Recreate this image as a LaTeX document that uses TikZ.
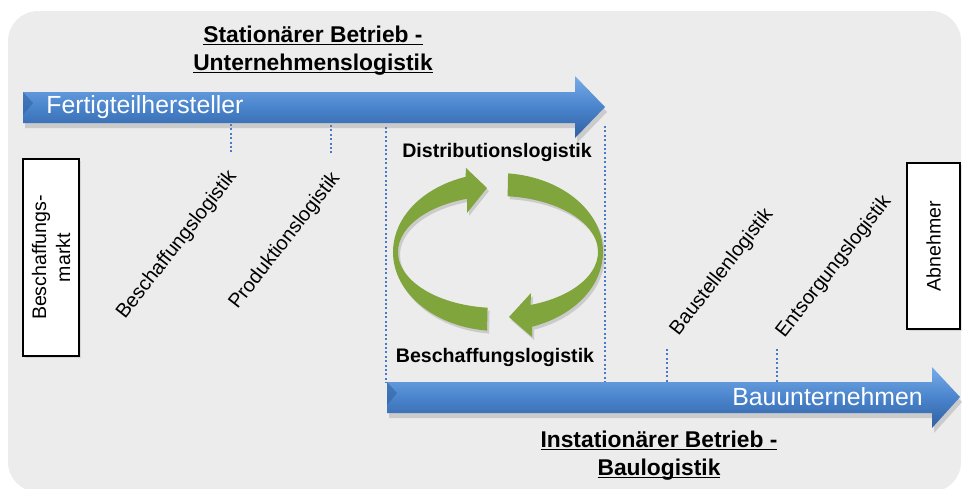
\documentclass[tikz,border=0pt]{standalone}
\usepackage{fontspec}
\setmainfont{Liberation Sans}
\usetikzlibrary{shadows}

\definecolor{panelgray}{RGB}{236,236,236}
\definecolor{barblue}{RGB}{74,132,204}
\definecolor{barlight}{RGB}{120,172,232}
\definecolor{bardark}{RGB}{48,96,162}
\definecolor{cyclegreen}{RGB}{128,165,60}
\definecolor{markblue}{RGB}{72,122,200}

% tight underline, sits right under the baseline
\newcommand{\titleline}[1]{\underline{\smash{#1}}}

\tikzset{
    panel/.style={fill=panelgray, rounded corners=15pt},
    bar/.style={top color=barlight, bottom color=bardark, middle color=barblue,
        drop shadow={opacity=0.3, shadow xshift=1pt, shadow yshift=-2.5pt}},
    bevel/.style={fill=bardark, opacity=0.55},
    barlabel/.style={text=white, inner sep=0pt, font=\fontsize{12.4}{14}\selectfont},
    title/.style={align=center, font=\bfseries\fontsize{11.4}{14}\selectfont},
    flowlabel/.style={font=\bfseries\fontsize{9.8}{12}\selectfont},
    phase/.style={rotate=52, inner sep=0pt, font=\fontsize{10}{12}\selectfont},
    endbox/.style={draw=black, line width=1pt, fill=white, align=center, inner sep=1pt,
        font=\fontsize{9.8}{12}\selectfont, drop shadow={opacity=0.2, shadow xshift=1pt, shadow yshift=-1pt}},
    marker/.style={draw=markblue, line width=1pt, dash pattern=on 1pt off 1.2pt},
    cycle/.style={fill=cyclegreen, drop shadow={opacity=0.3, shadow xshift=1pt, shadow yshift=-1.5pt}},
}

\begin{document}
\begin{tikzpicture}[x=0.5pt, y=-0.5pt]
    \useasboundingbox (0,0) rectangle (962,488);

    % Grey panel
    \path[panel] (8,11) rectangle (961,492);

    % Dotted markers along the two bars
    \foreach \n/\x/\ya/\yb in {1/231/124/152, 2/331/125/154, 3/386/127/383,
                               4/605/126/382, 5/667/349/382, 6/777/349/382} {
        \coordinate (m\n a) at (\x,\ya);
        \coordinate (m\n b) at (\x,\yb);
        \draw[marker] (m\n a) -- (m\n b);
    }

    % Upper bar
    \shade[bar] (23,92) -- (575,92) -- (575,76) -- (605,107) -- (575,138) -- (575,123) -- (23,123) -- cycle;
    \fill[bevel] (23,92) -- (33,103) -- (23,115) -- cycle;
    \node[barlabel, anchor=west] (fert) at (46,107) {Fertigteilhersteller};

    % Lower bar
    \shade[bar] (387,382) -- (932,382) -- (932,367) -- (960,397) -- (932,428) -- (932,413) -- (387,413) -- cycle;
    \fill[bevel] (387,382) -- (397,393) -- (387,405) -- cycle;
    \node[barlabel, anchor=east] (bau) at (923,397) {Bauunternehmen};

    % Titles
    \node[title] (statTitle) at (313,58) {\titleline{Stationärer Betrieb -}\\\titleline{Unternehmenslogistik}};
    \node[title] (instTitle) at (659,463) {\titleline{Instationärer Betrieb -}\\\titleline{Baulogistik}};

    % Cycle in the middle
    \coordinate (cyc) at (498,252);
    \fill[cycle] ([shift={(96:105 and 79)}]cyc) arc[start angle=96, end angle=252, x radius=105, y radius=79]
        -- (466,168) -- (487,188) -- (467,213)
        -- ([shift={(252:100 and 56)}]cyc) arc[start angle=252, end angle=96, x radius=100, y radius=56] -- cycle;
    \fill[cycle] ([shift={(275.5:105 and 79)}]cyc) arc[start angle=275.5, end angle=431, x radius=105, y radius=79]
        -- (532,337) -- (509,317) -- (531,293)
        -- ([shift={(431:100 and 56)}]cyc) arc[start angle=431, end angle=275.5, x radius=100, y radius=56] -- cycle;
    \node[flowlabel] (dist) at (497,152) {Distributionslogistik};
    \node[flowlabel] (besch) at (495,357) {Beschaffungslogistik};

    % Rotated phases
    \node[phase] (beschLog) at (177,245) {Beschaffungslogistik};
    \node[phase] (prodLog) at (285,241) {Produktionslogistik};
    \node[phase] (bauLog) at (722,272) {Baustellenlogistik};
    \node[phase] (entsLog) at (834,267) {Entsorgungslogistik};

    % Market and customer
    \node[endbox, rotate=90, minimum width=98.5pt, minimum height=28pt] (market) at (51,257.5) {Beschaffungs-\\markt};
    \node[endbox, rotate=90, minimum width=83pt, minimum height=26.5pt] (customer) at (933.5,246) {Abnehmer};
\end{tikzpicture}
\end{document}
